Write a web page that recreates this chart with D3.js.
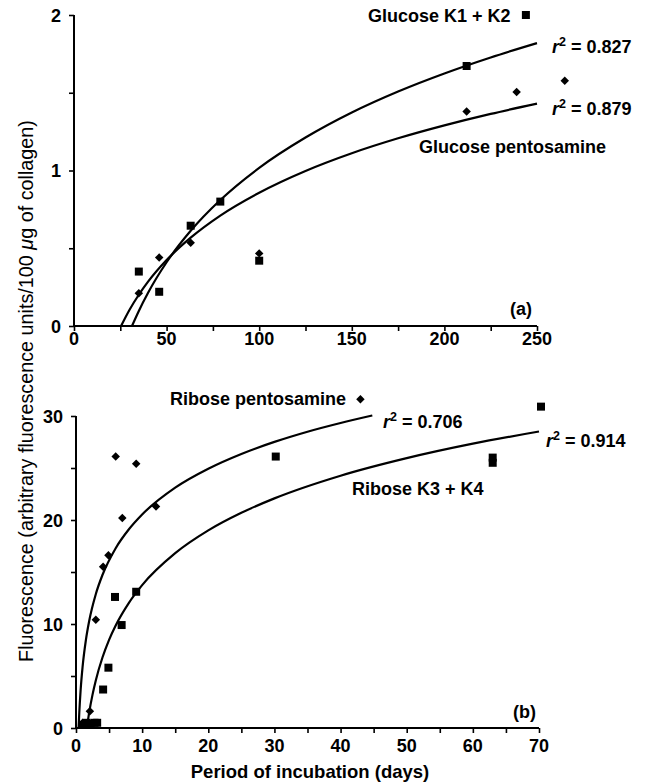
<!DOCTYPE html>
<html><head><meta charset="utf-8">
<script src="https://cdn.jsdelivr.net/npm/d3@7"></script>
<style>
html,body{margin:0;padding:0;background:#fff;}
svg{display:block;font-family:"Liberation Sans",Arial,Helvetica,sans-serif;}
svg text{fill:#000;}
</style></head>
<body>
<svg id="chart" width="649" height="784"></svg>
<script>
// ---------- Panel (a): glucose ----------
const aXTicks = [0, 50, 100, 150, 200, 250];
const aYTicks = [0, 1, 2];
const gluK12Days = [35, 46, 63, 79, 100, 212, 244];
const gluK12Vals = [0.35, 0.22, 0.645, 0.80, 0.42, 1.672, 2.0];
const gluPentDays = [35, 46, 63, 100, 212, 239, 265];
const gluPentVals = [0.21, 0.44, 0.535, 0.467, 1.38, 1.505, 1.577];
// fitted curves
const gluK12CurveX = [31.3, 35, 40, 50, 63, 79, 100, 125, 150, 175, 200, 225, 250];
const gluK12CurveY = [0, 0.097, 0.214, 0.410, 0.612, 0.810, 1.017, 1.212, 1.373, 1.508, 1.624, 1.727, 1.819];
const gluPentCurveX = [25.4, 30, 35, 40, 50, 63, 79, 100, 125, 150, 175, 200, 225, 250];
const gluPentCurveY = [0, 0.105, 0.201, 0.285, 0.424, 0.568, 0.710, 0.857, 0.997, 1.111, 1.207, 1.290, 1.364, 1.430];

// ---------- Panel (b): ribose ----------
const bXTicks = [0, 10, 20, 30, 40, 50, 60, 70];
const bYTicks = [0, 10, 20, 30];
const ribPentDays = [1, 2.1, 3.0, 4.1, 4.9, 6.0, 7.0, 9.1, 12.1, 43];
const ribPentVals = [0.5, 1.6, 10.4, 15.5, 16.6, 26.1, 20.2, 25.4, 21.3, 31.6];
const ribK34Days = [1, 1.6, 2.2, 2.8, 3.2, 4.1, 4.9, 5.9, 6.9, 9.1, 30.2, 63, 63, 70.3];
const ribK34Vals = [0.3, 0.5, 0.4, 0.5, 0.5, 3.7, 5.8, 12.6, 9.9, 13.1, 26.1, 26.0, 25.5, 30.9];
const ribPentCurveX = [0.39, 0.5, 0.7, 1, 1.5, 2, 3, 4, 6, 8, 10, 15, 20, 25, 30, 35, 40, 44.8];
const ribPentCurveY = [0, 1.51, 3.65, 5.91, 8.48, 10.31, 12.89, 14.71, 17.29, 19.11, 20.53, 23.11, 24.93, 26.35, 27.51, 28.49, 29.33, 30.05];
const ribK34CurveX = [1.64, 2, 2.5, 3, 4, 5, 6, 8, 10, 15, 20, 25, 30, 40, 50, 60, 70];
const ribK34CurveY = [0, 1.52, 3.21, 4.60, 6.78, 8.48, 9.86, 12.04, 13.74, 16.81, 19.00, 20.69, 22.08, 24.26, 25.95, 27.34, 28.51];

const svg = d3.select("#chart");
const zip = (a, b) => a.map((v, i) => [v, b[i]]);

function panel(cfg) {
  const x = d3.scaleLinear().domain(cfg.xDom).range(cfg.xRange);
  const y = d3.scaleLinear().domain(cfg.yDom).range(cfg.yRange);
  const g = svg.append("g");
  const xAxis = d3.axisBottom(x).tickValues(cfg.xMinor).tickSize(5).tickFormat("");
  const yAxis = d3.axisLeft(y).tickValues(cfg.yMinor).tickSize(5).tickFormat("");
  const gx = g.append("g").attr("transform", `translate(0,${cfg.yRange[0]})`).call(xAxis);
  const gy = g.append("g").attr("transform", `translate(${cfg.xRange[0]},0)`).call(yAxis);
  [gx, gy].forEach(a => {
    a.select(".domain").attr("stroke", "#000").attr("stroke-width", 2);
    a.selectAll(".tick line").attr("stroke", "#000").attr("stroke-width", 1.6);
  });
  gx.select(".domain").attr("d", `M${cfg.xRange[0]},0H${cfg.xRange[1]}`);
  gy.select(".domain").attr("d", `M0,${cfg.yRange[0]}V${cfg.yRange[1]}`);
  g.append("g").selectAll("text").data(cfg.xTicks).join("text")
    .attr("x", d => x(d)).attr("y", cfg.yRange[0] + cfg.xLabOff)
    .attr("text-anchor", "middle").attr("font-size", 18).attr("font-weight", "bold")
    .text(d => d);
  g.append("g").selectAll("text").data(cfg.yTicks).join("text")
    .attr("x", cfg.xRange[0] - 13).attr("y", d => y(d) + 6.5)
    .attr("text-anchor", "end").attr("font-size", 18).attr("font-weight", "bold")
    .text(d => d);
  const line = d3.line().x(d => x(d[0])).y(d => y(d[1])).curve(d3.curveMonotoneX);
  cfg.curves.forEach(c => {
    g.append("path").attr("d", line(c)).attr("fill", "none")
      .attr("stroke", "#000").attr("stroke-width", 2.2);
  });
  const sq = d3.symbol().type(d3.symbolSquare).size(64);
  const di = d3.symbol().type(d3.symbolSquare).size(36);
  g.append("g").selectAll("path").data(cfg.squares).join("path")
    .attr("d", sq).attr("transform", d => `translate(${x(d[0])},${y(d[1])})`).attr("fill", "#000");
  g.append("g").selectAll("path").data(cfg.diamonds).join("path")
    .attr("d", di).attr("transform", d => `translate(${x(d[0])},${y(d[1])}) rotate(45)`).attr("fill", "#000");
  return {x, y, g};
}

panel({
  xDom: [0, 250], xRange: [74, 537], yDom: [0, 2], yRange: [326, 15], xLabOff: 19,
  xTicks: aXTicks, yTicks: aYTicks,
  xMinor: d3.range(0, 251, 25), yMinor: d3.range(0, 2.01, 0.5),
  curves: [zip(gluK12CurveX, gluK12CurveY), zip(gluPentCurveX, gluPentCurveY)],
  squares: zip(gluK12Days, gluK12Vals),
  diamonds: zip(gluPentDays, gluPentVals)
});
panel({
  xDom: [0, 70], xRange: [76, 539], yDom: [0, 30], yRange: [728, 416], xLabOff: 24,
  xTicks: bXTicks, yTicks: bYTicks,
  xMinor: d3.range(0, 71, 5), yMinor: d3.range(0, 31, 5),
  curves: [zip(ribPentCurveX, ribPentCurveY), zip(ribK34CurveX, ribK34CurveY)],
  squares: zip(ribK34Days, ribK34Vals),
  diamonds: zip(ribPentDays, ribPentVals)
});

function label(x, y, txt) {
  svg.append("text").attr("x", x).attr("y", y).attr("font-size", 18)
    .attr("font-weight", "bold").text(txt);
}
function rsq(x, y, val) {
  const t = svg.append("text").attr("x", x).attr("y", y).attr("font-size", 18).attr("font-weight", "bold");
  t.append("tspan").attr("font-style", "italic").text("r");
  t.append("tspan").attr("dy", -7).attr("font-size", 12.5).text("2");
  t.append("tspan").attr("dy", 7).text(" = " + val);
}
label(368, 22, "Glucose K1 + K2");
rsq(552, 53, "0.827");
rsq(552, 115, "0.879");
label(419, 153, "Glucose pentosamine");
label(510, 315, "(a)");
label(170, 405, "Ribose pentosamine");
rsq(383, 428, "0.706");
rsq(546, 447, "0.914");
label(352, 495, "Ribose K3 + K4");
label(513, 718, "(b)");

svg.append("text").attr("x", 310).attr("y", 778).attr("text-anchor", "middle")
  .attr("font-size", 18.5).attr("font-weight", "bold").text("Period of incubation (days)");
const yt = svg.append("text").attr("transform", "translate(33,391) rotate(-90)")
  .attr("text-anchor", "middle").attr("font-size", 19.8);
yt.append("tspan").text("Fluorescence (arbitrary fluorescence units/100 ");
yt.append("tspan").attr("font-style", "italic").text("μ");
yt.append("tspan").text("g of collagen)");
</script>
</body></html>
